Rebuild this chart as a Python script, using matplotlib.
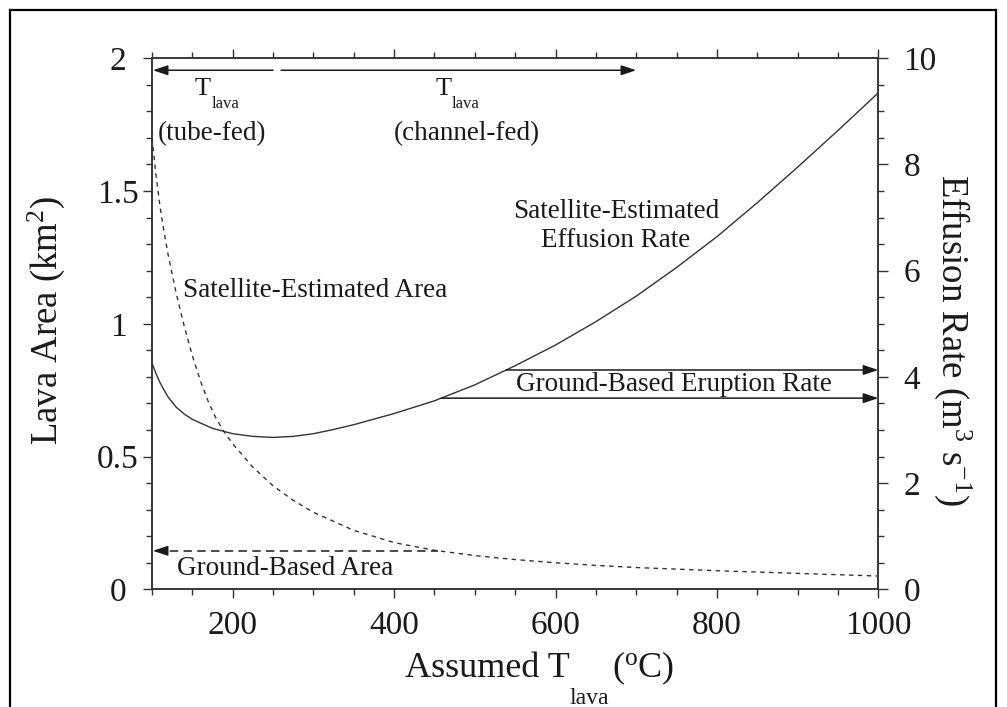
import matplotlib
matplotlib.use("Agg")
import numpy as np
import matplotlib.pyplot as plt
from matplotlib.ticker import MultipleLocator, FixedLocator, FixedFormatter
from matplotlib.lines import Line2D

plt.rcParams["font.family"] = ["Liberation Serif", "DejaVu Serif"]
plt.rcParams["mathtext.fontset"] = "custom"
plt.rcParams["mathtext.rm"] = "Liberation Serif"
plt.rcParams["mathtext.it"] = "Liberation Serif:italic"

# Satellite-estimated effusion rate (m3/s) vs assumed lava temperature
temps_rate = [100, 105, 110, 115, 120, 130, 140, 150, 175, 200, 225, 250, 275,
              300, 325, 350, 400, 450, 500, 550, 600, 650, 700, 750, 800, 850,
              900, 950, 1000]
effusion = [4.26, 4.06, 3.89, 3.75, 3.62, 3.43, 3.30, 3.20, 3.03, 2.93, 2.88,
            2.86, 2.88, 2.93, 3.01, 3.10, 3.31, 3.55, 3.85, 4.21, 4.60, 5.04,
            5.52, 6.06, 6.64, 7.28, 7.95, 8.64, 9.35]

# Satellite-estimated lava area (km2) vs assumed lava temperature
temps_area = [100, 105, 110, 115, 120, 130, 140, 150, 160, 170, 180, 190, 200,
              225, 250, 275, 300, 350, 400, 450, 500, 550, 600, 650, 700, 750,
              800, 850, 900, 950, 1000]
area = [1.70, 1.56, 1.44, 1.345, 1.26, 1.115, 0.99, 0.88, 0.785, 0.705, 0.64,
        0.59, 0.548, 0.46, 0.39, 0.335, 0.29, 0.222, 0.176, 0.147, 0.127,
        0.112, 0.100, 0.090, 0.082, 0.076, 0.070, 0.065, 0.060, 0.055, 0.050]

# Ground-based reference values
ground_rates = [4.13, 3.60]
ground_area = 0.145

# Temperature ranges for tube-fed and channel-fed flows
tube_range = (250, 100)
channel_range = (260, 700)

x_ticks = [200, 400, 600, 800, 1000]
y_left_ticks = [0, 0.5, 1, 1.5, 2]
y_left_labels = ["0", "0.5", "1", "1.5", "2"]
y_right_ticks = [0, 2, 4, 6, 8, 10]

W, H = 1007, 707
INK = "#1a1a1a"
AXC = "#333333"

fig = plt.figure(figsize=(W / 100, H / 100), dpi=100)
ax = fig.add_axes([152 / W, 1 - 589.3 / H, (878.3 - 152) / W, (589.3 - 58.3) / H])
ax2 = ax.twinx()

ax.set_xlim(100, 1000)
ax.set_ylim(0, 2)
ax2.set_ylim(0, 10)

t_rate = np.array(temps_rate)
eff = np.array(effusion)
t_area = np.array(temps_area)
ar = np.array(area)

ax2.plot(t_rate, eff, color=AXC, lw=1.0)
ax.plot(t_area, ar, color=AXC, lw=1.0, linestyle=(0, (3.2, 3.2)))

arrow_kw = dict(arrowstyle="-|>,head_length=0.9,head_width=0.3", color=INK,
                lw=1.1, shrinkA=0, shrinkB=0)

# Ground-based eruption rate arrows start where the satellite curve reaches them
rising = t_rate >= 250
for r in ground_rates:
    t0 = np.interp(r, eff[rising], t_rate[rising])
    ax2.annotate("", xy=(1000, r), xytext=(t0, r), arrowprops=arrow_kw)
ax2.text(746.5, np.mean(ground_rates), "Ground-Based Eruption Rate",
         ha="center", va="center", fontsize=19.5, color=INK)

# Ground-based area dashed arrow
t_a = np.interp(ground_area, ar[::-1], t_area[::-1])
ax.plot([105, t_a], [ground_area, ground_area], color=INK, lw=1.1,
        linestyle=(0, (5.5, 3.5)))
ax.annotate("", xy=(101, ground_area), xytext=(114, ground_area),
            arrowprops=arrow_kw)
ax.text(130.6, 0.08, "Ground-Based Area", ha="left", va="center",
        fontsize=19.5, color=INK)

# Tube-fed / channel-fed temperature ranges
ax.annotate("", xy=(tube_range[1] + 1, 1.955), xytext=(tube_range[0], 1.955),
            arrowprops=arrow_kw)
ax.annotate("", xy=(channel_range[1], 1.955), xytext=(channel_range[0], 1.955),
            arrowprops=arrow_kw)
for tx, lx, cx, txt in [(152.6, 174.4, 174.4, "(tube-fed)"),
                        (450.8, 471.9, 489.9, "(channel-fed)")]:
    ax.text(tx, 1.862, "T", ha="left", va="baseline", fontsize=19, color=INK)
    ax.text(lx, 1.813, "lava", ha="left", va="baseline", fontsize=12, color=INK)
    ax.text(cx, 1.715, txt, ha="center", va="center", fontsize=19.5, color=INK)

ax.text(138.4, 1.127, "Satellite-Estimated Area", ha="left", va="center",
        fontsize=19.5, color=INK)
ax.text(675, 1.368, "Satellite-Estimated\nEffusion Rate", ha="center",
        va="center", fontsize=19.5, color=INK, linespacing=1.25)

# Axes, ticks
for a in (ax, ax2):
    for s in a.spines.values():
        s.set_color(AXC)
        s.set_linewidth(1.1)

ax.xaxis.set_major_locator(FixedLocator(x_ticks))
ax.xaxis.set_minor_locator(MultipleLocator(50))
ax.yaxis.set_major_locator(FixedLocator(y_left_ticks))
ax.yaxis.set_major_formatter(FixedFormatter(y_left_labels))
ax.yaxis.set_minor_locator(MultipleLocator(0.1))
ax2.yaxis.set_major_locator(FixedLocator(y_right_ticks))
ax2.yaxis.set_minor_locator(MultipleLocator(0.5))

ax.tick_params(axis="x", which="both", direction="out", top=True, color=AXC,
               width=1.0, labelsize=24, labelcolor=INK, pad=9)
ax.tick_params(axis="x", which="major", length=6.5)
ax.tick_params(axis="x", which="minor", length=4.3)
ax.tick_params(axis="y", which="both", direction="out", color=AXC, width=1.0,
               labelsize=24, labelcolor=INK, pad=18)
ax.tick_params(axis="y", which="major", length=6.5)
ax.tick_params(axis="y", which="minor", length=4.3)
for lbl in ax.get_yticklabels():
    lbl.set_horizontalalignment("center")
ax2.tick_params(axis="y", which="both", direction="out", color=AXC, width=1.0,
                labelsize=24, labelcolor=INK, pad=11)
ax2.tick_params(axis="y", which="major", length=7)
ax2.tick_params(axis="y", which="minor", length=4.3)

# Axis titles
fig.text(46 / W, 1 - 320 / H, r"Lava Area (km$^{\mathrm{2}}$)", rotation=90,
         ha="center", va="center", fontsize=26.5, color=INK)
fig.text(953 / W, 1 - 340 / H, r"Effusion Rate (m$^{\mathrm{3}}$ s$^{\mathrm{-1}}$)",
         rotation=270, ha="center", va="center", fontsize=26.5, color=INK)
fig.text(405 / W, 1 - 677 / H, "Assumed T", ha="left", va="baseline",
         fontsize=26, color=INK)
fig.text(569 / W, 1 - 704 / H, "lava", ha="left", va="baseline",
         fontsize=17, color=INK)
fig.text(612 / W, 1 - 677 / H, r"($^{\mathrm{o}}$C)", ha="left", va="baseline",
         fontsize=26, color=INK)

# Frame around the figure
fx0, fx1, fy1 = 10 / W, 996 / W, 1 - 10 / H
for xs, ys in [([fx0, fx0], [-0.01, fy1]), ([fx1, fx1], [-0.01, fy1]),
               ([fx0, fx1], [fy1, fy1])]:
    fig.add_artist(Line2D(xs, ys, transform=fig.transFigure, color="black",
                          lw=1.6))

fig.savefig("out.png", dpi=100)
